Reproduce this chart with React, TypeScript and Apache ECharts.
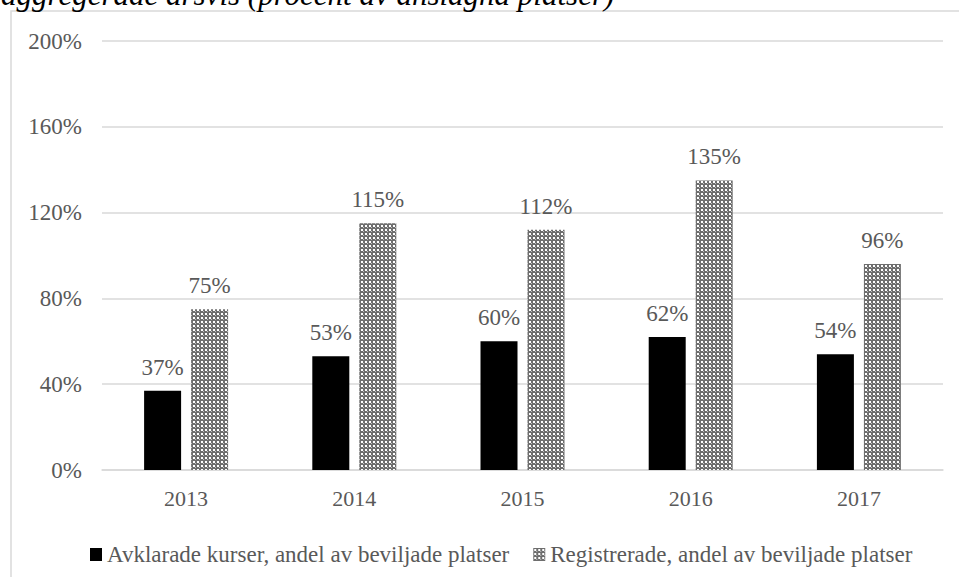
import React, { useEffect, useRef } from "react";
import * as echarts from "echarts";

const years = ["2013", "2014", "2015", "2016", "2017"];
const avklarade = [37, 53, 60, 62, 54];
const registrerade = [75, 115, 112, 135, 96];
const yTicks = { min: 0, max: 200, interval: 40 };
const seriesNames = [
  "Avklarade kurser, andel av beviljade platser",
  "Registrerade, andel av beviljade platser",
];
const titleText = "aggregerade årsvis (procent av anslagna platser)";

function makePattern(): any {
  const c = document.createElement("canvas");
  c.width = 4;
  c.height = 4;
  const ctx = c.getContext("2d")!;
  ctx.fillStyle = "#6e6e6e";
  ctx.fillRect(0, 0, 4, 4);
  ctx.fillStyle = "#ffffff";
  ctx.fillRect(1, 1, 2, 2);
  ctx.fillStyle = "#c0c0c0";
  ctx.fillRect(3, 3, 1, 1);
  return { image: c, repeat: "repeat", imageWidth: 4, imageHeight: 4 };
}

const FONT = "Liberation Serif";

export default function App() {
  const ref = useRef<HTMLDivElement>(null);
  useEffect(() => {
    const chart = echarts.init(ref.current!, undefined, { renderer: "svg" });
    const pattern = makePattern();
    const labelStyle = {
      show: true,
      position: "top",
      distance: 12,
      formatter: "{c}%",
      fontFamily: FONT,
      fontSize: 23,
      color: "#595959",
    };
    chart.setOption({
      animation: false,
      backgroundColor: "#ffffff",
      textStyle: { fontFamily: FONT },
      graphic: [
        {
          type: "rect",
          shape: { x: 11, y: 11, width: 1200, height: 1200 },
          style: { fill: "none", stroke: "#d9d9d9", lineWidth: 1.5 },
          silent: true,
        },
        {
          type: "text",
          x: 1,
          y: -6,
          style: {
            text: titleText,
            fontFamily: FONT,
            fontSize: 31,
            fontStyle: "italic",
            fill: "#000000",
            verticalAlign: "middle",
            align: "left",
          },
        },
      ],
      grid: { left: 102, right: 16, top: 41, bottom: 107, containLabel: false },
      legend: {
        left: 85,
        top: 538,
        itemWidth: 12,
        itemHeight: 13,
        itemGap: 24,
        icon: "rect",
        textStyle: { fontFamily: FONT, fontSize: 23, color: "#595959" },
        data: seriesNames,
      },
      xAxis: {
        type: "category",
        data: years,
        axisLine: { lineStyle: { color: "#d9d9d9", width: 1.5 } },
        axisTick: { show: false },
        axisLabel: { fontFamily: FONT, fontSize: 22, color: "#595959", margin: 17 },
      },
      yAxis: {
        type: "value",
        min: yTicks.min,
        max: yTicks.max,
        interval: yTicks.interval,
        axisLine: { show: false },
        axisTick: { show: false },
        splitLine: { lineStyle: { color: "#d9d9d9", width: 1.5 } },
        axisLabel: {
          fontFamily: FONT,
          fontSize: 23,
          color: "#595959",
          margin: 20,
          formatter: "{value}%",
        },
      },
      series: [
        {
          name: seriesNames[0],
          type: "bar",
          data: avklarade,
          barWidth: 37,
          barGap: "27%",
          itemStyle: { color: "#000000" },
          label: labelStyle,
        },
        {
          name: seriesNames[1],
          type: "bar",
          data: registrerade,
          barWidth: 37,
          itemStyle: { color: pattern },
          label: labelStyle,
        },
      ],
    });
    return () => chart.dispose();
  }, []);
  return (
    <div
      ref={ref}
      style={{ position: "fixed", left: 0, top: 0, width: 959, height: 577 }}
    />
  );
}
